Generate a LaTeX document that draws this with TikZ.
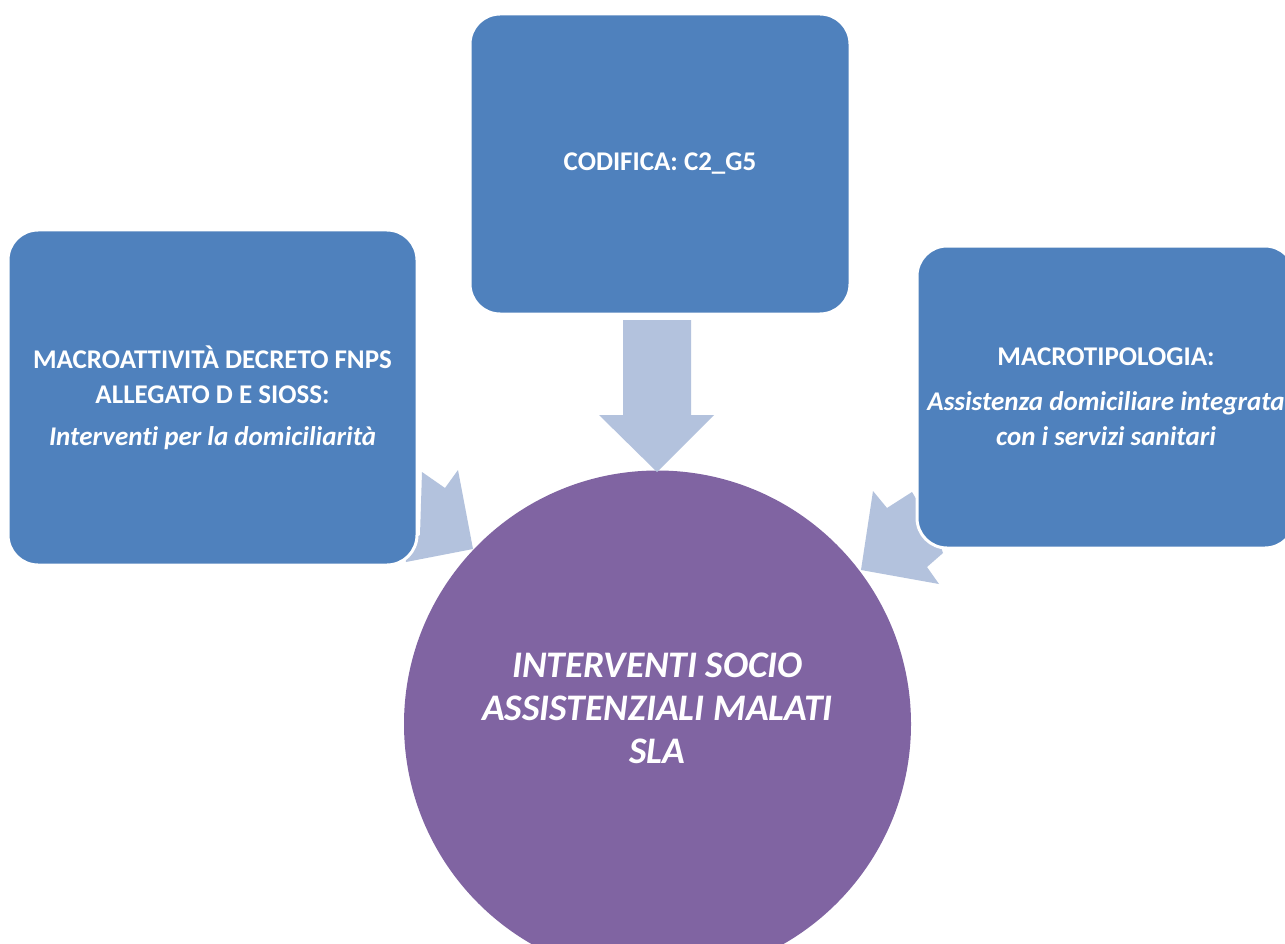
\documentclass[tikz,border=0pt]{standalone}
\usepackage{fontspec}
\setmainfont{Carlito}[Ligatures=CommonOff]
\definecolor{boxblue}{HTML}{4F81BD}
\definecolor{hubpurple}{HTML}{8064A2}
\definecolor{arrowblue}{HTML}{B3C2DD}
\tikzset{
  infobox/.style={draw=white, line width=3pt, fill=boxblue, rounded corners=30pt,
    text=white, align=center, inner sep=4pt,
    font=\bfseries\fontsize{27}{35}\selectfont},
  hub/.style={circle, fill=hubpurple, minimum size=507pt, inner sep=0pt},
  hubtext/.style={text=white, align=center,
    font=\bfseries\itshape\fontsize{37.5}{43}\selectfont},
  blockarrow/.style={fill=arrowblue}
}
\begin{document}
\begin{tikzpicture}[x=1pt, y=-1pt]
  \useasboundingbox (0,0) rectangle (1285,944);
  \fill[white] (0,0) rectangle (1285,944);
  % centre
  \node[hub] (sla) at (657.5,724) {};
  \node[hubtext] (slatext) at (657.5,708)
    {INTERVENTI SOCIO\\ASSISTENZIALI MALATI\\SLA};
  % arrows into the centre
  \begin{scope}[blockarrow]
    \fill (623,320) -- (691,320) -- (691,415) -- (714,415) -- (657,472)
      -- (599,415) -- (623,415) -- cycle;
    \fill (422,472) -- (445,488) -- (458,470) -- (473,549) -- (406,562)
      -- (405,545) -- (420,535) -- cycle;
    \fill (873,491) -- (887,508) -- (912,492) -- (935,530) -- (943,553)
      -- (927,567) -- (939,584) -- (861,570) -- cycle;
  \end{scope}
  % outer boxes
  \node[infobox, minimum width=380pt, minimum height=300pt] (codifica)
    at (660,164) {CODIFICA: C2\_G5};
  \node[infobox, minimum width=409pt, minimum height=335pt] (macroatt)
    at (212.5,397.5)
    {MACROATTIVITÀ DECRETO FNPS\\ALLEGATO D E SIOSS:\\[7pt]
     \textit{Interventi per la domiciliarità}};
  \node[infobox, minimum width=378pt, minimum height=302pt] (macrotip)
    at (1106,397)
    {MACROTIPOLOGIA:\\[10pt]\textit{Assistenza domiciliare integrata}\\
     \textit{con i servizi sanitari}};
\end{tikzpicture}
\end{document}
